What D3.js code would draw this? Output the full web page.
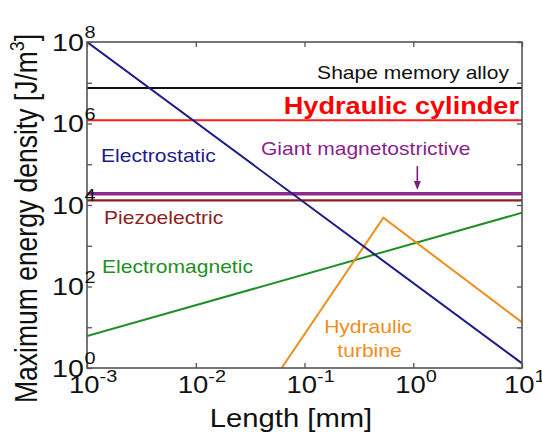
<!DOCTYPE html>
<html><head><meta charset="utf-8">
<script src="https://cdn.jsdelivr.net/npm/d3@7"></script>
<style>body{margin:0;background:#fff}svg{display:block}</style>
</head><body>
<script>
// ---- data ----
const lengthDomain = [1e-3, 10];          // mm
const energyDomain = [1, 1e8];            // J/m^3
const xTickValues = [1e-3, 1e-2, 1e-1, 1, 10];
const xTickExponents = ["-3", "-2", "-1", "0", "1"];
const yTickValues = [1, 10, 100, 1e3, 1e4, 1e5, 1e6, 1e7, 1e8];
const yLabelValues = [1, 1e2, 1e4, 1e6, 1e8];
const yLabelExponents = ["0", "2", "4", "6", "8"];

const electrostaticLength = [1e-3, 10];
const electrostaticEnergy = [1e8, 1.3];
const electromagneticLength = [1e-3, 10];
const electromagneticEnergy = [6.1, 6450];
const turbineLength = [0.0616, 0.531, 10];
const turbineEnergy = [1, 4880, 13.2];
const shapeMemoryEnergy = 7.4e6;
const hydraulicCylinderEnergy = 1.2e6;
const giantMagnetostrictiveEnergy = 1.9e4;
const piezoelectricEnergy = 1.3e4;
const arrowLength = 1.09;
const arrowEnergy = [9e4, 2.33e4];

// ---- layout ----
const W = 542, H = 433;
const L = 87, R = 522, T = 42, B = 368;
const STRETCH = 1.17;
const FONT = "'Liberation Sans', Arial, Helvetica, sans-serif";

const svg = d3.select("body").append("svg").attr("width", W).attr("height", H);
const x = d3.scaleLog().domain(lengthDomain).range([L, R]);
const y = d3.scaleLog().domain(energyDomain).range([B, T]);

svg.append("defs").append("clipPath").attr("id", "clip")
  .append("rect").attr("x", L).attr("y", T).attr("width", R - L).attr("height", B - T);

const plot = svg.append("g").attr("clip-path", "url(#clip)");
const line = d3.line().x(d => x(d[0])).y(d => y(d[1]));

function hline(val, color, w) {
  plot.append("path").datum([[lengthDomain[0], val], [lengthDomain[1], val]])
    .attr("d", line).attr("fill", "none").attr("stroke", color).attr("stroke-width", w);
}
hline(shapeMemoryEnergy, "#111", 2);
hline(hydraulicCylinderEnergy, "#ff1a1a", 2);
hline(giantMagnetostrictiveEnergy, "#8e2a8e", 3.5);
hline(piezoelectricEnergy, "#8e1f1f", 2.2);

function series(xs, ys, color) {
  plot.append("path").datum(xs.map((v, i) => [v, ys[i]]))
    .attr("d", line).attr("fill", "none").attr("stroke", color).attr("stroke-width", 2);
}
series(electromagneticLength, electromagneticEnergy, "#1f8f26");
series(turbineLength, turbineEnergy, "#ee8e1c");
series(electrostaticLength, electrostaticEnergy, "#1c1c86");

// arrow
const ax = x(arrowLength);
plot.append("line").attr("x1", ax).attr("x2", ax)
  .attr("y1", y(arrowEnergy[0])).attr("y2", y(arrowEnergy[1]) - 6)
  .attr("stroke", "#7a1f7a").attr("stroke-width", 1.6);
plot.append("path")
  .attr("d", `M${ax - 3.5},${y(arrowEnergy[1]) - 9} L${ax + 3.5},${y(arrowEnergy[1]) - 9} L${ax},${y(arrowEnergy[1])} Z`)
  .attr("fill", "#7a1f7a");

// frame & ticks
const tickColor = "#555";
function styleAxis(g) {
  g.select(".domain").remove();
  g.selectAll(".tick line").attr("stroke", tickColor).attr("stroke-width", 1.3);
  g.selectAll(".tick text").remove();
}
svg.append("g").attr("transform", `translate(0,${B})`)
  .call(d3.axisBottom(x).tickValues(xTickValues).tickSizeInner(-5).tickSizeOuter(0).tickFormat("")).call(styleAxis);
svg.append("g").attr("transform", `translate(0,${T})`)
  .call(d3.axisTop(x).tickValues(xTickValues).tickSizeInner(-5).tickSizeOuter(0).tickFormat("")).call(styleAxis);
svg.append("g").attr("transform", `translate(${L},0)`)
  .call(d3.axisLeft(y).tickValues(yTickValues).tickSizeInner(-5).tickSizeOuter(0).tickFormat("")).call(styleAxis);
svg.append("g").attr("transform", `translate(${R},0)`)
  .call(d3.axisRight(y).tickValues(yTickValues).tickSizeInner(-5).tickSizeOuter(0).tickFormat("")).call(styleAxis);
svg.append("rect").attr("x", L).attr("y", T).attr("width", R - L).attr("height", B - T)
  .attr("fill", "none").attr("stroke", tickColor).attr("stroke-width", 1.6);

// tick labels
const XTF = 23.5, YTF = 24.5, SF = 17;
xTickValues.forEach((v, i) => {
  const g = svg.append("g").attr("transform", `translate(${x(v) - 18},393) scale(${STRETCH},1)`);
  const t = g.append("text").attr("font-family", FONT).attr("font-size", XTF).attr("fill", "#111");
  t.append("tspan").text("10");
  t.append("tspan").attr("font-size", SF).attr("dy", -11).text(xTickExponents[i]);
});
yLabelValues.forEach((v, i) => {
  const g = svg.append("g").attr("transform", `translate(84,${y(v) + 8.5}) scale(${STRETCH},1)`);
  g.append("text").attr("font-family", FONT).attr("font-size", YTF).attr("fill", "#111")
    .attr("text-anchor", "end").text("10");
  g.append("text").attr("font-family", FONT).attr("font-size", SF).attr("fill", "#111")
    .attr("x", 0.5).attr("y", -12.5).text(yLabelExponents[i]);
});

// axis titles
{
  const g = svg.append("g").attr("transform", `translate(291,427) scale(${STRETCH},1)`);
  g.append("text").attr("font-family", FONT).attr("font-size", 25).attr("fill", "#111")
    .attr("text-anchor", "middle").text("Length [mm]");
}
{
  const g = svg.append("g").attr("transform", `translate(37,403) rotate(-90) scale(1,${STRETCH})`);
  const t = g.append("text").attr("font-family", FONT).attr("font-size", 26.5).attr("fill", "#111");
  t.append("tspan").text("Maximum energy density [J/m");
  t.append("tspan").attr("font-size", 18).attr("dy", -11).text("3");
  t.append("tspan").attr("dy", 11).text("]");
}

// annotations (anchored in data space)
const annotations = [
  {text: "Shape memory alloy", lx: 0.880, ly: 7.092, anchor: "end", color: "#111", size: 18},
  {text: "Hydraulic cylinder", lx: 0.972, ly: 6.233, anchor: "end", color: "#ff0000", size: 23.2, bold: true},
  {text: "Electrostatic", lx: -2.871, ly: 5.055, anchor: "start", color: "#1c1c8c", size: 18},
  {text: "Giant magnetostrictive", lx: -1.400, ly: 5.227, anchor: "start", color: "#8a1f8a", size: 18},
  {text: "Piezoelectric", lx: -2.844, ly: 3.534, anchor: "start", color: "#8e1f1f", size: 18},
  {text: "Electromagnetic", lx: -2.862, ly: 2.331, anchor: "start", color: "#1f8f26", size: 18},
  {text: "Hydraulic", lx: -0.416, ly: 0.859, anchor: "middle", color: "#ee8e1c", size: 18},
  {text: "turbine", lx: -0.402, ly: 0.270, anchor: "middle", color: "#ee8e1c", size: 18}
];
annotations.forEach(a => {
  const g = svg.append("g")
    .attr("transform", `translate(${x(Math.pow(10, a.lx))},${y(Math.pow(10, a.ly))}) scale(${STRETCH},1)`);
  g.append("text").attr("font-family", FONT).attr("font-size", a.size)
    .attr("font-weight", a.bold ? "bold" : "normal")
    .attr("fill", a.color).attr("text-anchor", a.anchor).text(a.text);
});
</script>
</body></html>
